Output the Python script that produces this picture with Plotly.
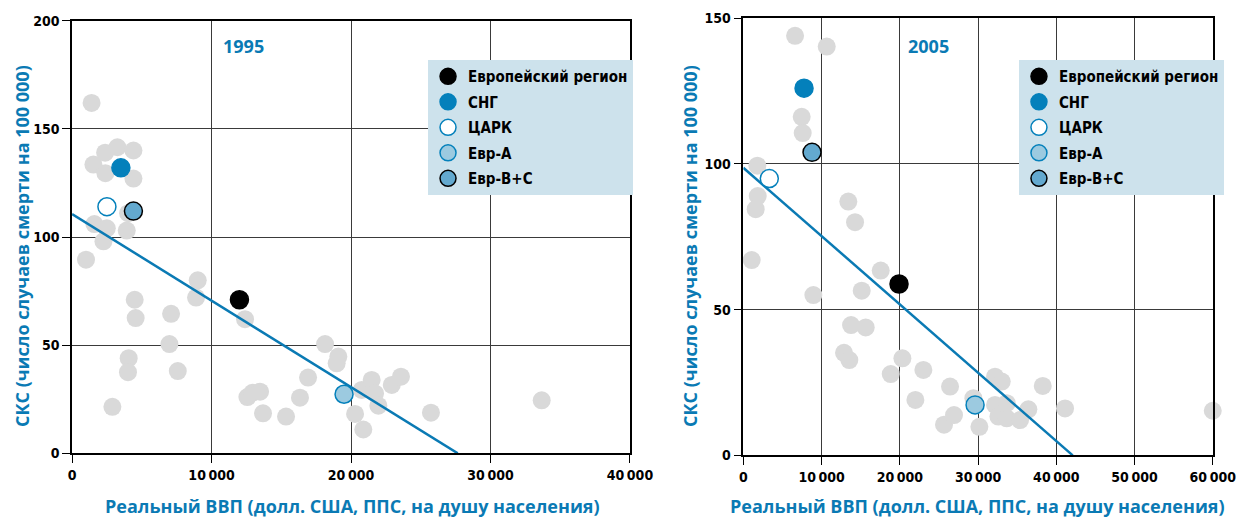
import plotly.graph_objects as go

# --- 1995: GDP per capita (PPP USD) vs SDR per 100 000 ---
other_gdp_1995 = [1400, 2370, 3250, 4400, 1530, 2390, 4400, 4020, 1600, 2490, 3920, 2250,
                  1000, 9010, 8890, 12400, 4490, 4560, 7100, 6980, 4060, 4010, 7580, 2890,
                  12570, 12930, 13480, 13690, 15340, 16340, 16920, 18140, 19090, 18970,
                  20770, 21480, 21720, 21960, 22920, 23580, 20290, 20880, 25730, 33670]
other_sdr_1995 = [162, 139, 141.5, 140, 133.5, 129.5, 127, 111, 106, 104, 103, 98,
                  89.5, 80, 72, 62, 71, 62.5, 64.5, 50.5, 44, 37.5, 38, 21.5,
                  26, 28, 28.5, 18.5, 17, 25.7, 35, 50.5, 44.7, 41.6,
                  29.3, 33.9, 27.7, 22, 31.6, 35.4, 18.2, 11, 18.8, 24.5]
trend_gdp_1995 = [0, 27650]
trend_sdr_1995 = [110.6, 0]

# --- 2005 ---
other_gdp_2005 = [6610, 10660, 7460, 7590, 1790, 1840, 1580, 13420, 14280, 1070, 17560,
                  15130, 8950, 13770, 15640, 12870, 13550, 20330, 18840, 23010, 21990,
                  26420, 25650, 26930, 29400, 30170, 32170, 33030, 32170, 32600, 33670,
                  33670, 35370, 36430, 38270, 41120, 60000]
other_sdr_2005 = [144, 140.3, 116.2, 110.6, 99.4, 89, 84.5, 87.1, 80, 67, 63.4,
                  56.5, 55, 44.7, 43.9, 35.2, 32.7, 33.3, 27.9, 29.3, 19,
                  23.6, 10.5, 13.8, 19.6, 9.8, 27, 25.3, 17.3, 13.3, 12.7,
                  17.9, 12.1, 15.8, 23.8, 16.1, 15.3]
trend_gdp_2005 = [0, 42100]
trend_sdr_2005 = [98.7, 0]

# Country groups: name, (gdp, sdr) 1995, (gdp, sdr) 2005
group_names = ["Европейский регион", "СНГ", "ЦАРК", "Евр-A", "Евр-B+C"]
group_gdp_1995 = [12000, 3500, 2500, 19500, 4400]
group_sdr_1995 = [71, 132, 114, 27.3, 112]
group_gdp_2005 = [19900, 7760, 3320, 29620, 8780]
group_sdr_2005 = [58.8, 126, 95, 17.3, 104]

# Axis ticks
x_ticks_1995 = [0, 10000, 20000, 30000, 40000]
x_ticks_2005 = [0, 10000, 20000, 30000, 40000, 50000, 60000]
y_ticks_1995 = [0, 50, 100, 150, 200]
y_ticks_2005 = [0, 50, 100, 150]

BLUE = "#0a7ab4"
GRAY = "#d9d9d9"
group_fill = ["#000000", "#0480bb", "#ffffff", "#9ccae0", "#63a9cf"]
group_line = ["#000000", "#0480bb", "#0480bb", "#0480bb", "#000000"]

NARROW = "DejaVu Sans Condensed, sans-serif"
TICK_FONT = dict(family=NARROW, size=14, color="#000000", weight="bold")
TITLE_FONT = dict(family="Open Sans, DejaVu Sans, sans-serif", size=18, color=BLUE,
                  weight="bold")


def fmt(v):
    return f"{v:,}".replace(",", "\u2009")


fig = go.Figure()

panels = [
    ("x", "y", "legend", other_gdp_1995, other_sdr_1995, trend_gdp_1995, trend_sdr_1995,
     group_gdp_1995, group_sdr_1995),
    ("x2", "y2", "legend2", other_gdp_2005, other_sdr_2005, trend_gdp_2005, trend_sdr_2005,
     group_gdp_2005, group_sdr_2005),
]

for xa, ya, leg, ox, oy, tx, ty, gx, gy in panels:
    fig.add_trace(go.Scatter(
        x=ox, y=oy, mode="markers", xaxis=xa, yaxis=ya, showlegend=False, cliponaxis=False,
        marker=dict(size=18, color=GRAY, line=dict(width=0)), hoverinfo="x+y"))
    fig.add_trace(go.Scatter(
        x=tx, y=ty, mode="lines", xaxis=xa, yaxis=ya, showlegend=False,
        line=dict(color=BLUE, width=2.5), hoverinfo="skip"))
    for i, name in enumerate(group_names):
        fig.add_trace(go.Scatter(
            x=[gx[i]], y=[gy[i]], mode="markers", name=name, xaxis=xa, yaxis=ya,
            legend=leg, legendgroup=f"{leg}-{i}", cliponaxis=False,
            marker=dict(size=18, color=group_fill[i],
                        line=dict(width=1.5, color=group_line[i]))))

axis_common = dict(
    showgrid=True, gridcolor="#3a3a3a", gridwidth=1,
    showline=True, linecolor="#000000", linewidth=1.5, mirror=True,
    ticks="outside", ticklen=8, tickcolor="#000000", tickwidth=1.2,
    tickfont=TICK_FONT, zeroline=False, fixedrange=True, automargin=False,
    ticklabeloverflow="allow",
)

legend_common = dict(
    bgcolor="#cde2ec", borderwidth=0, xanchor="left", yanchor="top",
    font=dict(family=NARROW, size=15, color="#000000", weight="bold"),
    itemsizing="trace", traceorder="grouped", tracegroupgap=3,
)

fig.update_layout(
    width=1236, height=518,
    margin=dict(l=0, r=0, t=0, b=0, autoexpand=False),
    paper_bgcolor="#ffffff", plot_bgcolor="#ffffff",
    showlegend=True,
    xaxis=dict(domain=[0.0583, 0.5097], range=[0, 40000], anchor="y",
               tickvals=x_ticks_1995, ticktext=[fmt(v) for v in x_ticks_1995], **axis_common),
    yaxis=dict(domain=[0.1249, 0.9600], range=[0, 200], anchor="x",
               tickvals=y_ticks_1995, ticktext=[str(v) for v in y_ticks_1995], **axis_common),
    xaxis2=dict(domain=[0.6014, 0.9812], range=[0, 60000], anchor="y2",
                tickvals=x_ticks_2005, ticktext=[fmt(v) for v in x_ticks_2005], **axis_common),
    yaxis2=dict(domain=[0.1210, 0.9647], range=[0, 150], anchor="x2",
                tickvals=y_ticks_2005, ticktext=[str(v) for v in y_ticks_2005], **axis_common),
    legend=dict(x=0.3463, y=0.884, **legend_common),
    legend2=dict(x=0.8244, y=0.884, **legend_common),
)

y_title = "СКС (число случаев смерти на 100 000)"
x_title = "Реальный ВВП (долл. США, ППС, на душу населения)"
YEAR_FONT = dict(family="Open Sans, sans-serif", size=18, color=BLUE, weight="bold")

annotations = [
    dict(text="1995", x=243, y=46, font=YEAR_FONT),
    dict(text="2005", x=928, y=46, font=YEAR_FONT),
    dict(text=x_title, x=352, y=506, font=TITLE_FONT),
    dict(text=x_title, x=977, y=506, font=TITLE_FONT),
    dict(text=y_title, x=22, y=246, font=TITLE_FONT, textangle=-90),
    dict(text=y_title, x=690, y=246, font=TITLE_FONT, textangle=-90),
]
for a in annotations:
    fig.add_annotation(
        text=a["text"], x=a["x"] / 1236, y=1 - a["y"] / 518, xref="paper", yref="paper",
        xanchor="center", yanchor="middle", showarrow=False, font=a["font"],
        textangle=a.get("textangle", 0), borderpad=0)

fig.write_html("out.html")
